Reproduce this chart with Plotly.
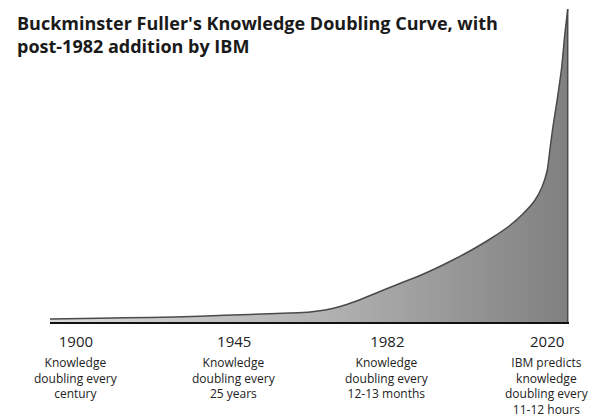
import plotly.graph_objects as go

# Timeline position (0 = left edge, 100 = right edge of the chart) and relative knowledge amount
position = [0, 9.6, 19.3, 28.9, 38.5, 46.2, 50.1, 53.0, 55.9, 58.8, 61.7, 64.5, 67.4,
            71.3, 75.1, 78.0, 80.9, 84.8, 88.6, 91.1, 93.4, 94.8, 95.8, 96.3, 96.9,
            97.7, 98.6, 99.2, 99.75]
knowledge = [3, 3.8, 4.5, 5.8, 7.5, 9, 10, 12, 15.5, 20.5, 26.5, 32.5, 38.5,
             46.5, 55.5, 63, 71, 83, 96.5, 108, 121.5, 135, 151.5, 171.5, 195,
             221.5, 255, 288, 313]

tick_pos = [5.0, 35.5, 65.0, 95.8]
tick_years = ["1900", "1945", "1982", "2020"]
tick_notes = [
    "Knowledge<br>doubling every<br>century",
    "Knowledge<br>doubling every<br>25 years",
    "Knowledge<br>doubling every<br>12-13 months",
    "IBM predicts<br>knowledge<br>doubling every<br>11-12 hours",
]

title_text = "Buckminster Fuller's Knowledge Doubling Curve, with<br>post-1982 addition by IBM"

fig = go.Figure()
fig.add_trace(go.Scatter(
    x=position, y=knowledge, mode="lines",
    line=dict(color="#4a4a4a", width=1.5, shape="spline", smoothing=0.5),
    fill="tozeroy",
    fillgradient=dict(type="horizontal",
                      colorscale=[[0, "#dcdcdc"], [0.55, "#b0b0b0"], [1, "#808080"]]),
    hoverinfo="skip", showlegend=False,
))
# dark right edge of the area, from the last point down to the baseline
fig.add_trace(go.Scatter(
    x=[position[-1], position[-1]], y=[knowledge[-1], 0], mode="lines",
    line=dict(color="#4a4a4a", width=1.5), hoverinfo="skip", showlegend=False,
))

for p, note in zip(tick_pos, tick_notes):
    fig.add_annotation(x=p, y=-0.095, xref="x", yref="paper", text=note,
                       showarrow=False, xanchor="center", yanchor="top", align="center",
                       font=dict(family="Open Sans", size=12, color="#222222"))

fig.add_annotation(x=-35/519, y=1 - 3/316, xref="paper", yref="paper", text=title_text,
                   showarrow=False, xanchor="left", yanchor="top", align="left",
                   font=dict(family="Open Sans", size=18, color="#1a1a1a", weight="bold"))

fig.update_layout(
    width=594, height=420,
    margin=dict(l=50, r=25, t=6, b=98),
    paper_bgcolor="white", plot_bgcolor="white",
    xaxis=dict(range=[0, 100], showgrid=False, zeroline=False,
               showline=True, linecolor="#111111", linewidth=2,
               tickvals=tick_pos, ticktext=tick_years,
               ticks="outside", ticklen=5, tickcolor="rgba(0,0,0,0)",
               tickfont=dict(family="Open Sans", size=15, color="#222222")),
    yaxis=dict(range=[0, 316], visible=False, showgrid=False, zeroline=False),
)

fig.write_html("out.html", config={"displayModeBar": False},
               post_script="document.body.style.margin='0';")
